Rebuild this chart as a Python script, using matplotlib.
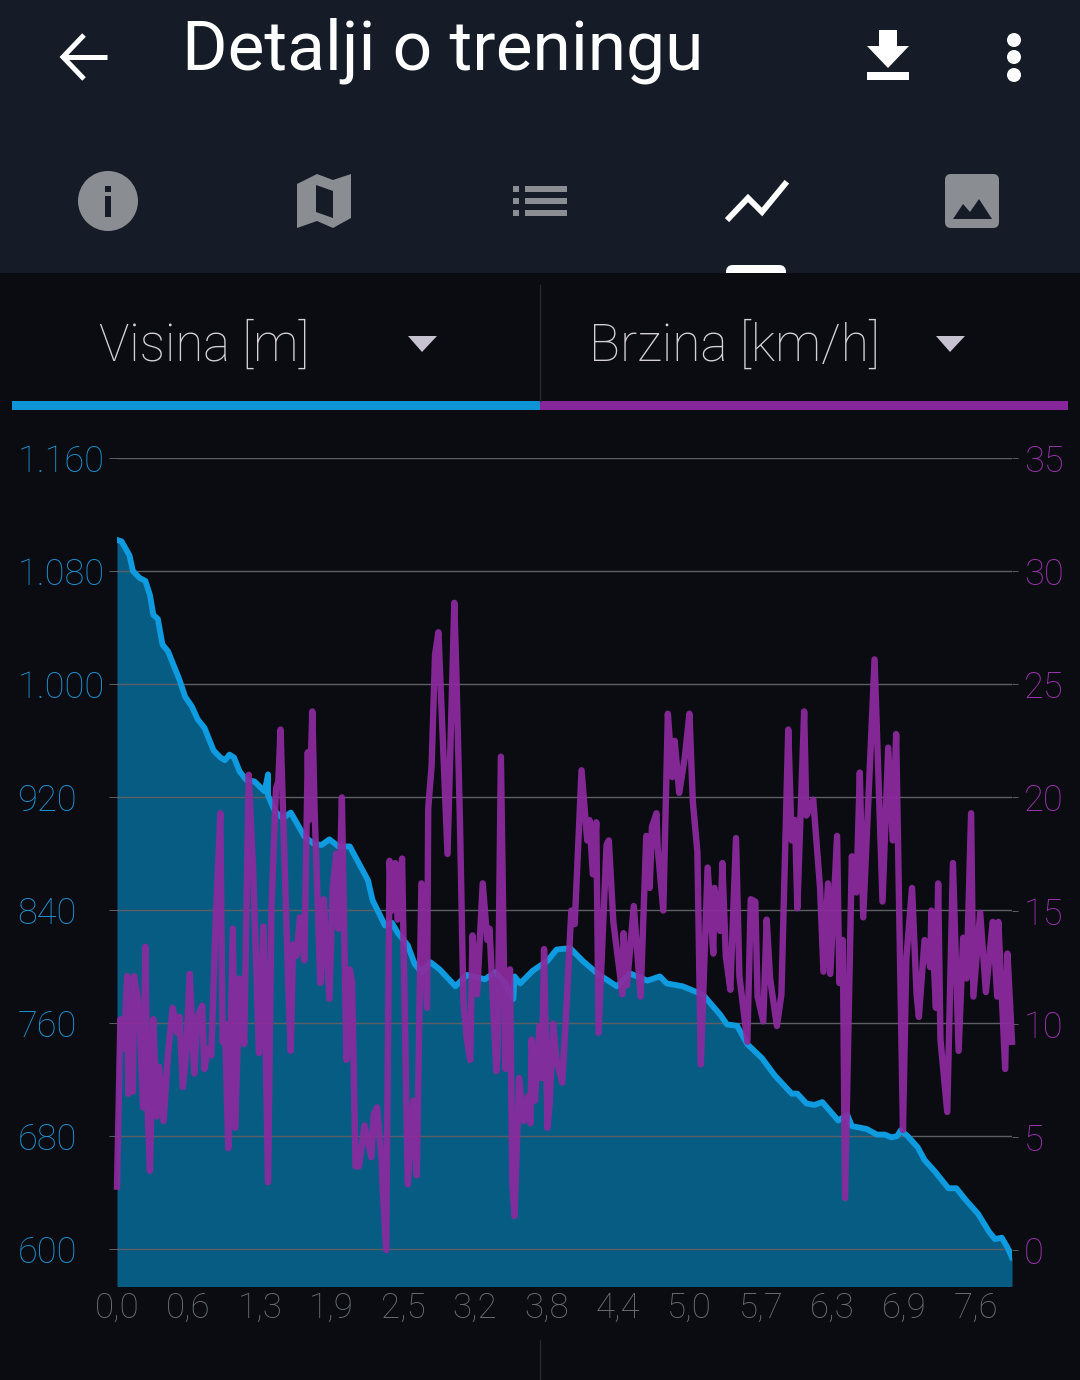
import matplotlib
matplotlib.use('Agg')
import matplotlib.pyplot as plt
from matplotlib.patches import Polygon, Rectangle, Circle, FancyBboxPatch

# distance [km], height [m]
dist_h = [0.00, 0.04, 0.11, 0.14, 0.20, 0.25, 0.29, 0.32, 0.36, 0.40, 0.45, 0.51, 0.55, 0.60, 0.66, 0.71,
          0.77, 0.85, 0.91, 0.95, 0.99, 1.03, 1.08, 1.14, 1.21, 1.30, 1.33, 1.33, 1.39, 1.46, 1.53, 1.58,
          1.65, 1.73, 1.80, 1.87, 1.95, 2.05, 2.11, 2.21, 2.25, 2.36, 2.42, 2.47, 2.56, 2.62, 2.68, 2.76,
          2.84, 2.98, 3.08, 3.24, 3.33, 3.42, 3.49, 3.50, 3.55, 3.66, 3.79, 3.87, 3.99, 4.10, 4.23, 4.40,
          4.52, 4.67, 4.78, 4.84, 4.98, 5.07, 5.16, 5.31, 5.37, 5.46, 5.55, 5.68, 5.79, 5.94, 5.99, 6.07,
          6.14, 6.21, 6.35, 6.43, 6.47, 6.60, 6.69, 6.76, 6.82, 6.87, 6.90, 6.96, 7.05, 7.11, 7.20, 7.24,
          7.32, 7.39, 7.48, 7.58, 7.68, 7.73, 7.79, 7.84, 7.88]
height = [1102, 1101, 1091, 1080, 1075, 1073, 1063, 1049, 1046, 1028, 1023, 1011, 1003, 991, 984, 975,
          969, 953, 948, 946, 950, 948, 938, 932, 931, 924, 936, 921, 910, 905, 909, 902,
          892, 887, 886, 890, 885, 885, 876, 861, 847, 829, 831, 824, 815, 802, 796, 803,
          798, 786, 794, 791, 796, 788, 777, 793, 788, 797, 804, 812, 813, 804, 795, 786,
          795, 790, 793, 788, 786, 783, 780, 766, 759, 758, 745, 735, 723, 710, 710, 703,
          702, 704, 691, 695, 687, 685, 681, 681, 679, 680, 684, 680, 672, 663, 655, 651,
          643, 643, 634, 625, 612, 607, 608, 601, 594]

# distance [km], speed [km/h]
dist_s = [0.00, 0.03, 0.06, 0.09, 0.10, 0.11, 0.14, 0.15, 0.18, 0.20, 0.23, 0.25, 0.27, 0.29, 0.32, 0.35,
          0.37, 0.41, 0.43, 0.45, 0.49, 0.53, 0.55, 0.58, 0.61, 0.64, 0.68, 0.71, 0.75, 0.77, 0.80, 0.83,
          0.87, 0.91, 0.93, 0.95, 0.98, 1.02, 1.04, 1.08, 1.12, 1.16, 1.20, 1.25, 1.29, 1.33, 1.36, 1.40,
          1.42, 1.44, 1.48, 1.51, 1.53, 1.55, 1.58, 1.61, 1.65, 1.68, 1.69, 1.72, 1.74, 1.79, 1.82, 1.87,
          1.90, 1.93, 1.95, 1.98, 2.02, 2.05, 2.07, 2.10, 2.13, 2.18, 2.24, 2.26, 2.29, 2.33, 2.34, 2.37,
          2.40, 2.42, 2.45, 2.47, 2.51, 2.56, 2.61, 2.64, 2.68, 2.73, 2.74, 2.77, 2.80, 2.83, 2.86, 2.91,
          2.97, 2.99, 3.02, 3.05, 3.08, 3.11, 3.13, 3.17, 3.22, 3.26, 3.28, 3.34, 3.35, 3.38, 3.42, 3.46,
          3.48, 3.50, 3.54, 3.58, 3.62, 3.64, 3.65, 3.68, 3.72, 3.74, 3.76, 3.79, 3.81, 3.84, 3.87, 3.92,
          3.96, 4.00, 4.03, 4.09, 4.14, 4.16, 4.19, 4.22, 4.24, 4.31, 4.33, 4.37, 4.45, 4.46, 4.49, 4.55,
          4.61, 4.66, 4.69, 4.71, 4.75, 4.76, 4.81, 4.85, 4.89, 4.91, 4.95, 5.00, 5.04, 5.07, 5.11, 5.14,
          5.20, 5.25, 5.26, 5.31, 5.33, 5.36, 5.40, 5.45, 5.48, 5.55, 5.58, 5.62, 5.64, 5.69, 5.72, 5.75,
          5.81, 5.85, 5.91, 5.94, 5.97, 5.99, 6.05, 6.07, 6.13, 6.19, 6.22, 6.26, 6.28, 6.34, 6.36, 6.39,
          6.41, 6.47, 6.51, 6.54, 6.57, 6.67, 6.74, 6.79, 6.83, 6.86, 6.92, 6.95, 7.00, 7.04, 7.06, 7.11,
          7.16, 7.17, 7.21, 7.23, 7.25, 7.31, 7.36, 7.41, 7.45, 7.48, 7.52, 7.54, 7.60, 7.65, 7.71, 7.75,
          7.76, 7.82, 7.84, 7.88]
speed = [2.8, 10.2, 8.9, 12.1, 6.9, 10.2, 7.0, 12.1, 11.2, 10.0, 6.3, 13.4, 6.2, 3.5, 10.2, 5.9,
         8.1, 5.7, 7.2, 8.7, 10.7, 9.6, 10.3, 7.2, 8.7, 12.2, 7.8, 10.3, 10.8, 8.0, 8.9, 8.6,
         14.7, 19.3, 9.2, 10.0, 4.5, 14.2, 5.4, 12.0, 9.1, 21.0, 16.6, 8.7, 14.3, 3.0, 15.1, 20.4,
         20.7, 23.0, 16.4, 11.4, 8.8, 13.5, 13.0, 14.7, 12.8, 22.0, 19.0, 23.8, 19.4, 11.8, 15.5, 11.1,
         16.0, 17.5, 14.2, 20.0, 8.4, 12.4, 11.8, 3.7, 3.7, 5.5, 4.1, 6.0, 6.3, 4.0, 2.7, 0.0,
         17.2, 15.0, 17.1, 14.6, 17.3, 2.9, 6.6, 3.3, 16.2, 10.7, 19.5, 21.4, 26.3, 27.3, 23.6, 17.5,
         28.6, 25.1, 18.8, 11.0, 9.3, 8.4, 13.9, 11.3, 16.2, 13.7, 14.2, 7.9, 8.6, 21.8, 8.0, 12.4,
         3.0, 1.5, 7.6, 5.7, 6.8, 5.6, 9.3, 6.6, 9.9, 7.6, 13.3, 5.4, 6.5, 10.0, 8.4, 7.4,
         11.0, 15.0, 14.4, 21.2, 18.1, 19.0, 16.6, 18.9, 9.6, 17.9, 18.1, 14.5, 11.3, 14.0, 11.7, 15.2,
         11.2, 18.3, 16.0, 18.7, 19.3, 17.8, 15.0, 23.7, 20.9, 22.5, 20.2, 21.8, 23.7, 19.8, 17.6, 8.2,
         16.9, 13.1, 16.0, 14.1, 17.1, 13.0, 11.5, 18.2, 12.1, 9.2, 15.5, 15.4, 11.2, 10.1, 14.6, 12.0,
         9.9, 11.3, 23.0, 18.1, 19.0, 15.1, 23.8, 19.2, 19.9, 16.0, 12.3, 16.2, 12.2, 18.3, 11.8, 13.7,
         2.3, 17.4, 15.8, 21.1, 14.7, 26.1, 15.4, 22.2, 18.1, 22.8, 5.3, 12.9, 16.0, 11.3, 10.3, 13.7,
         12.5, 15.0, 10.7, 16.2, 9.3, 6.1, 17.1, 8.8, 13.8, 12.0, 19.3, 11.2, 14.9, 11.4, 14.5, 11.2,
         14.5, 8.0, 13.1, 9.2]

x_ticks = [0.0, 0.63, 1.26, 1.89, 2.52, 3.15, 3.78, 4.41, 5.04, 5.67, 6.30, 6.93, 7.56]
x_labels = ['0,0', '0,6', '1,3', '1,9', '2,5', '3,2', '3,8', '4,4', '5,0', '5,7', '6,3', '6,9', '7,6']
h_ticks = [600, 680, 760, 840, 920, 1000, 1080, 1160]
h_labels = ['600', '680', '760', '840', '920', '1.000', '1.080', '1.160']
s_ticks = [0, 5, 10, 15, 20, 25, 30, 35]

W, H = 1080, 1380
BLUE = '#0f9be0'
BLUE_TXT = '#2090cf'
PURPLE = '#8c2a9e'
PURPLE_TXT = '#9c33b0'
GRID = '#5c6064'
HEAD = '#151c27'
BACK = '#0a0c11'
ICON = '#8a8d91'
FONT = ['Roboto', 'DejaVu Sans']
LIGHT = 'light'

fig = plt.figure(figsize=(W / 100, H / 100), dpi=100, facecolor=BACK)

# screen chrome, drawn in a full size axes in pixels
bg = fig.add_axes([0, 0, 1, 1])
bg.set_xlim(0, W)
bg.set_ylim(H, 0)
bg.axis('off')
bg.add_patch(Rectangle((0, 0), W, 273, color=HEAD, lw=0))
bg.add_patch(FancyBboxPatch((726, 265), 60, 16, boxstyle='round,pad=0,rounding_size=7', color='white', lw=0))
bg.add_patch(Rectangle((0, 273), W, 20, color=BACK, lw=0))
bg.add_patch(Rectangle((12, 401), 528, 9, color='#0d94d6', lw=0))
bg.add_patch(Rectangle((540, 401), 528, 9, color='#86269a', lw=0))
bg.plot([540, 540], [285, 401], color='#26292e', lw=1)
bg.plot([540, 540], [1340, 1380], color='#26292e', lw=1)

bg.text(182, 70, 'Detalji o treningu', color='white', fontsize=50, family=FONT, va='baseline')
bg.text(99, 361, 'Visina [m]', color='#d5d0d8', fontsize=36.5, family=FONT, weight=LIGHT, va='baseline')
bg.text(589, 361, 'Brzina [km/h]', color='#d5d0d8', fontsize=37, family=FONT, weight=LIGHT, va='baseline')
bg.add_patch(Polygon([[408, 336], [437, 336], [422, 352]], color='#c7c2cf', lw=0))
bg.add_patch(Polygon([[936, 336], [965, 336], [950, 352]], color='#c7c2cf', lw=0))

# back, download, menu
bg.plot([107, 64], [57, 57], color='white', lw=3.6, solid_capstyle='butt')
bg.plot([84, 63, 84], [35, 57, 79], color='white', lw=3.6, solid_joinstyle='miter', solid_capstyle='butt')
bg.add_patch(Polygon([[879, 30], [897, 30], [897, 46], [909, 46], [888, 68], [867, 46], [879, 46]], color='white', lw=0))
bg.add_patch(Rectangle((867, 72), 42, 8, color='white', lw=0))
for cy in [40, 57, 75]:
    bg.add_patch(Circle((1014, cy), 7, color='white', lw=0))

# tab icons
bg.add_patch(Circle((108, 201), 30, color=ICON, lw=0))
bg.add_patch(Rectangle((105, 196), 6, 21, color=HEAD, lw=0))
bg.add_patch(Rectangle((105, 186), 6, 6, color=HEAD, lw=0))
bg.add_patch(Polygon([[297, 184], [317, 174], [333, 180], [351, 174], [351, 218], [333, 228], [317, 221], [297, 228]],
                     color=ICON, lw=0))
bg.add_patch(Polygon([[316, 185], [333, 191], [333, 218], [316, 212]], color=HEAD, lw=0))
for ly in [186, 198, 210]:
    bg.add_patch(Rectangle((513, ly), 6, 6, color=ICON, lw=0))
    bg.add_patch(Rectangle((525, ly), 42, 6, color=ICON, lw=0))
bg.plot([729, 748, 762, 785], [218, 198, 212, 184], color='white', lw=4.2, solid_joinstyle='miter')
bg.add_patch(FancyBboxPatch((945, 174), 54, 54, boxstyle='round,pad=0,rounding_size=6', color=ICON, lw=0))
bg.add_patch(Polygon([[953, 219], [963, 204], [970, 212], [979, 199], [992, 219]], color=HEAD, lw=0))

# chart
ax = fig.add_axes([117 / W, 1 - 1286 / H, (1012 - 117) / W, (1286 - 458) / H], facecolor='none')
ax.fill_between(dist_h, height, 500, color='#075c84', lw=0, zorder=1)
ax.plot(dist_h, height, color=BLUE, lw=4.2, solid_joinstyle='round', zorder=3)
ax.set_xlim(0, 7.88)
ax.set_ylim(600 - 37 * 80 / 113, 1160)
ax.set_yticks(h_ticks)
ax.set_yticklabels(h_labels, ha='left', family=FONT, weight=LIGHT)
ax.set_xticks(x_ticks)
ax.set_xticklabels(x_labels, family=FONT, weight=LIGHT)
ax.grid(True, axis='y', color=GRID, lw=1)
ax.set_axisbelow(False)
ax.tick_params(axis='y', length=5.8, width=0.7, color=GRID, labelcolor=BLUE_TXT, labelsize=26, pad=66)
ax.tick_params(axis='x', length=0, labelcolor='#6a7075', labelsize=25, pad=4)
for s in ax.spines.values():
    s.set_visible(False)

ax2 = ax.twinx()
ax2.plot(dist_s, speed, color=PURPLE, lw=4.6, alpha=0.93, solid_joinstyle='round', clip_on=False)
ax2.set_ylim(-36 * 35 / 792, 35)
ax2.set_yticks(s_ticks)
ax2.set_yticklabels([str(v) for v in s_ticks], family=FONT, weight=LIGHT)
ax2.tick_params(axis='y', length=4.5, width=0.7, color=GRID, labelcolor=PURPLE_TXT, labelsize=26, pad=4)
for s in ax2.spines.values():
    s.set_visible(False)

fig.savefig('out.png', dpi=100, facecolor=BACK)
